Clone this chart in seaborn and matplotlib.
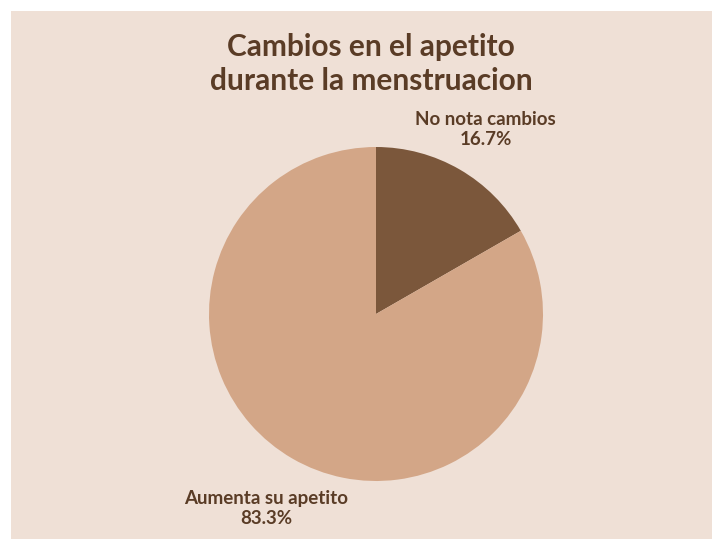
import matplotlib
matplotlib.use("Agg")
import matplotlib.pyplot as plt
import seaborn as sns
from matplotlib.patches import Rectangle

categories = ["No nota cambios", "Aumenta su apetito"]
values = [16.7, 83.3]
pct_labels = ["16.7%", "83.3%"]
colors = ["#7b573b", "#d3a687"]
title = "Cambios en el apetito\ndurante la menstruacion"

sns.set_theme(style="white")
plt.rcParams["font.family"] = ["Lato", "DejaVu Sans"]

W, H = 714, 539
fig = plt.figure(figsize=(W / 100, H / 100), dpi=100, facecolor="white")
bg = "#efe0d6"
fig.patches.append(Rectangle((11 / W, 0), (712 - 11) / W, (H - 11) / H,
                             transform=fig.transFigure, facecolor=bg,
                             edgecolor="none", zorder=-10))

cx, cy, r = 376, 314, 167
ax = fig.add_axes([(cx - r) / W, 1 - (cy + r) / H, 2 * r / W, 2 * r / H])
ax.set_zorder(5)
ax.patch.set_visible(False)

labels = [f"{c}\n{p}" for c, p in zip(categories, pct_labels)]
wedges, texts = ax.pie(values, colors=colors, startangle=90, counterclock=False,
                       labels=labels, labeldistance=1.31,
                       wedgeprops=dict(linewidth=0),
                       textprops=dict(fontsize=13.5, fontweight="bold",
                                      color="#5a3c26", linespacing=1.25))
for t in texts:
    t.set_horizontalalignment("center")
    t.set_verticalalignment("center")
    t.set_multialignment("center")
    x, y = t.get_position()
    t.set_position((x, y - 0.03))
ax.set_xlim(-1, 1)
ax.set_ylim(-1, 1)
ax.set_aspect("equal")
ax.axis("off")

fig.text(371 / W, 1 - 64 / H, title, ha="center", va="center",
         fontsize=21.5, fontweight="bold", color="#5a3c26", linespacing=1.3,
         zorder=6)

fig.savefig("out.png", dpi=100, facecolor="white")
